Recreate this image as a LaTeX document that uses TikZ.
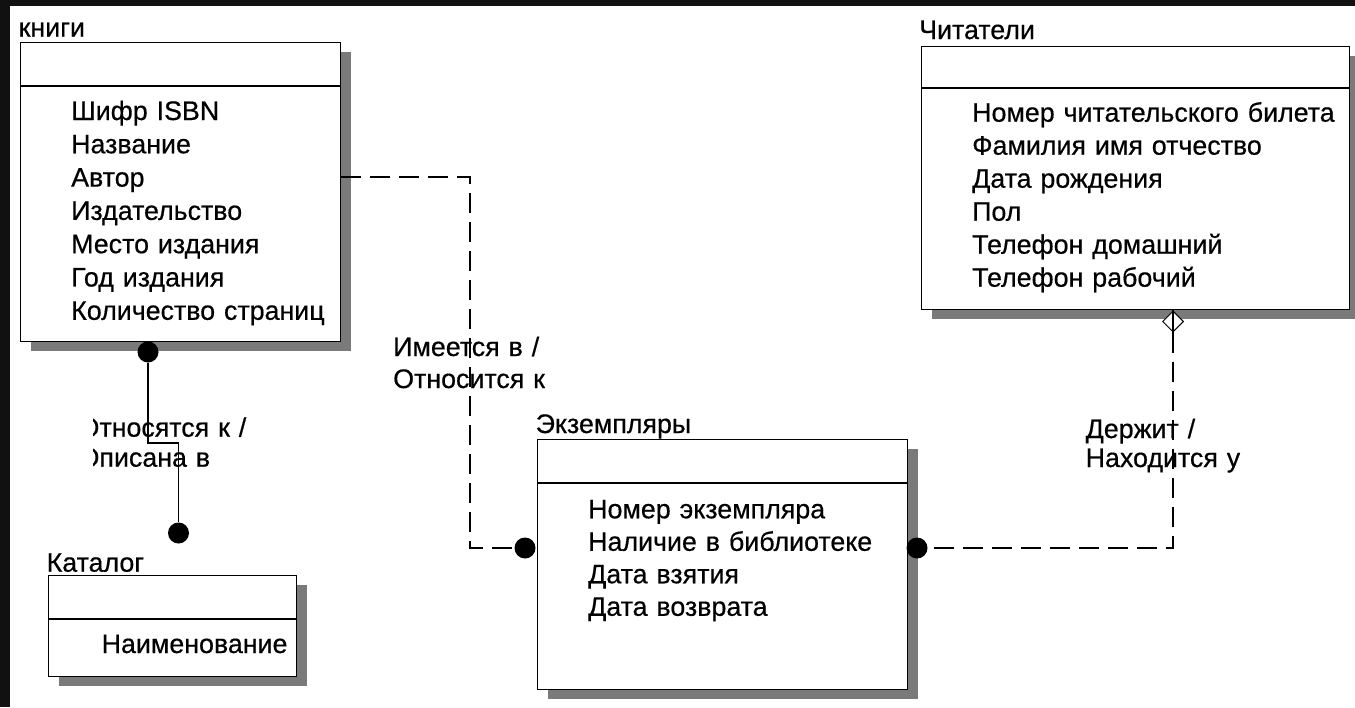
\documentclass[tikz,border=0pt]{standalone}
\usepackage{fontspec}
\setmainfont{Liberation Sans}[FakeBold=0.5]
\usetikzlibrary{shapes.geometric,shadows}
\definecolor{frame}{HTML}{111111}
\definecolor{shade}{HTML}{7A7A7A}
\tikzset{
  entity/.style={draw=black, line width=1.4pt, fill=white, anchor=north west, inner sep=0pt,
    drop shadow={shadow xshift=10pt, shadow yshift=-9pt, fill=shade, opacity=1}},
  divider/.style={draw=black, line width=1.4pt},
  attr/.style={anchor=base west, inner sep=0pt, align=left, text width=420pt},
  ttl/.style={anchor=base west, inner sep=0pt, font=\fontsize{26.8}{30}\selectfont},
  lbl/.style={anchor=base west, inner sep=0pt, align=left, text width=260pt},
  dot/.style={circle, fill=black, inner sep=0pt, minimum size=21pt},
  rel/.style={line width=1.3pt, dash pattern=on 20pt off 9pt},
  solidrel/.style={line width=1.3pt},
}
\begin{document}
\begin{tikzpicture}[x=1pt,y=-1pt]
\useasboundingbox (0,0) rectangle (1355,707);
\fill[white] (0,0) rectangle (1355,707);
\fill[frame] (0,0) rectangle (1355,6);
\fill[frame] (0,0) rectangle (10,707);

% entities
\node[entity, minimum width=320pt, minimum height=299pt] (knigi) at (20,42) {};
\node[entity, minimum width=428pt, minimum height=263pt] (chit) at (921,46) {};
\node[entity, minimum width=370pt, minimum height=250pt] (ekz) at (537,439) {};
\node[entity, minimum width=248pt, minimum height=101pt] (kat) at (48,575) {};

\draw[divider] (knigi.west |- 0,86) -- (knigi.east |- 0,86);
\draw[divider] (chit.west |- 0,88) -- (chit.east |- 0,88);
\draw[divider] (ekz.west |- 0,483) -- (ekz.east |- 0,483);
\draw[divider] (kat.west |- 0,619) -- (kat.east |- 0,619);

% titles
\node[ttl] (tknigi) at (18.5,36.7) {книги};
\node[ttl] (tchit) at (919,39) {Читатели};
\node[ttl] (tekz) at (535.5,433) {Экземпляры};
\node[ttl] (tkat) at (46.5,571.7) {Каталог};

% attributes
\node[attr, font=\fontsize{26.8}{33.3}\selectfont] (aknigi) at (71,120) {Шифр ISBN\\Название\\Автор\\Издательство\\Место издания\\Год издания\\Количество страниц};
\node[attr, font=\fontsize{26.8}{33}\selectfont] (achit) at (972,121.7) {Номер читательского билета\\Фамилия имя отчество\\Дата рождения\\Пол\\Телефон домашний\\Телефон рабочий};
\node[attr, font=\fontsize{26.8}{32.5}\selectfont] (aekz) at (588,518.3) {Номер экземпляра\\Наличие в библиотеке\\Дата взятия\\Дата возврата};
\node[attr, font=\fontsize{26.8}{33}\selectfont] (akat) at (101.5,653) {Наименование};

% relationship ends
\node[dot] (dotK1) at (148,352) {};
\node[dot] (dotK2) at (178.5,533) {};
\node[dot] (dotL) at (525,548) {};
\node[dot] (dotR) at (917,548) {};
\node[diamond, draw=black, fill=white, line width=1pt, inner sep=0pt, minimum width=21pt, minimum height=21pt] (dia) at (1173,321.5) {};

\coordinate (b1) at (470,177);
\coordinate (bk) at (178.5,443);

% connectors
\draw[rel] (knigi.east |- b1) -- (b1) |- (dotL.west);
\draw[solidrel] (chit.south -| dia) -- (dia.south);
\draw[rel] (dia.south) |- (dotR.east);
\draw[solidrel] (dotK1) |- (bk) -- (dotK2);

% labels
\node[lbl, font=\fontsize{26.8}{32}\selectfont] (l1) at (393,356) {Имеется в /\\Относится к};
\node[lbl, font=\fontsize{26.8}{29}\selectfont] (l2) at (1085.5,438) {Держит /\\Находится у};
\begin{scope}
\clip (93,400) rectangle (400,480);
\node[lbl, font=\fontsize{26.8}{30}\selectfont] (l3) at (78.4,436.7) {Относятся к /\\Описана в};
\end{scope}
\end{tikzpicture}
\end{document}
